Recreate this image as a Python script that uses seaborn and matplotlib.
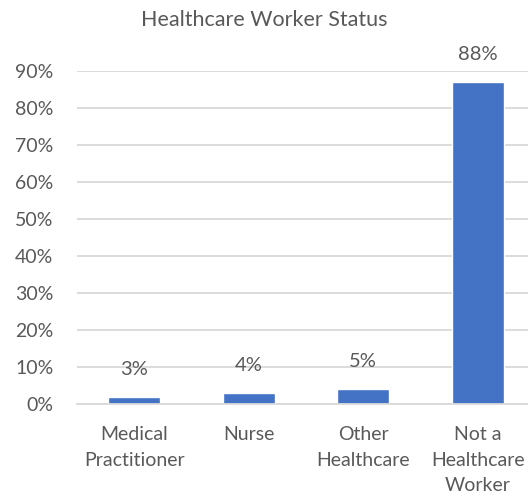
import matplotlib
matplotlib.use("Agg")
import matplotlib.pyplot as plt
import seaborn as sns
import pandas as pd

categories = ["Medical\nPractitioner", "Nurse", "Other\nHealthcare", "Not a\nHealthcare\nWorker"]
values = [2.0, 3.0, 4.1, 87.0]
value_labels = ["3%", "4%", "5%", "88%"]
yticks = [0, 10, 20, 30, 40, 50, 60, 70, 80, 90]
title = "Healthcare Worker Status"

sns.set_theme(style="white")
plt.rcParams["font.family"] = ["Lato", "DejaVu Sans"]

DPI = 100
W, H = 528, 498
fig = plt.figure(figsize=(W / DPI, H / DPI), dpi=DPI)
left, right = 77, 535
bottom_px, top_px = 404, 70.7
ax = fig.add_axes([left / W, 1 - bottom_px / H, (right - left) / W, (bottom_px - top_px) / H])

df = pd.DataFrame({"cat": categories, "val": values})
sns.barplot(data=df, x="cat", y="val", color="#4472C4", saturation=1, width=0.455, ax=ax)

txt = "#595959"
grid = "#D9D9D9"
ax.set_ylim(0, 90)
ax.set_xlim(-0.5, len(categories) - 0.5)
ax.set_yticks(yticks)
ax.set_yticklabels([f"{t}%" for t in yticks], color=txt, fontsize=14)
ax.yaxis.grid(True, color=grid, linewidth=1.3)
ax.set_axisbelow(True)
for s in ["top", "right", "left"]:
    ax.spines[s].set_visible(False)
ax.spines["bottom"].set_color(grid)
ax.spines["bottom"].set_linewidth(1.3)
ax.tick_params(axis="y", length=0, pad=17)
ax.set_xticks(range(len(categories)))
ax.set_xticklabels(categories, color=txt, fontsize=14, linespacing=1.6, va="top")
ax.tick_params(axis="x", length=0, pad=16)
ax.set_xlabel("")
ax.set_ylabel("")

# minor ticks at category boundaries
ax.set_xticks([i - 0.5 for i in range(len(categories) + 1)], minor=True)
ax.tick_params(axis="x", which="minor", length=6, width=1.3, color=grid, direction="out")

for i, (v, lab) in enumerate(zip(values, value_labels)):
    ax.annotate(lab, (i, v), xytext=(0, 27 * 72 / DPI), textcoords="offset points",
                ha="center", va="center", color=txt, fontsize=14.5, annotation_clip=False)

fig.text(0.5, 1 - 20 / H, title, ha="center", va="center", color=txt, fontsize=15.5)

fig.savefig("out.png", dpi=DPI)
